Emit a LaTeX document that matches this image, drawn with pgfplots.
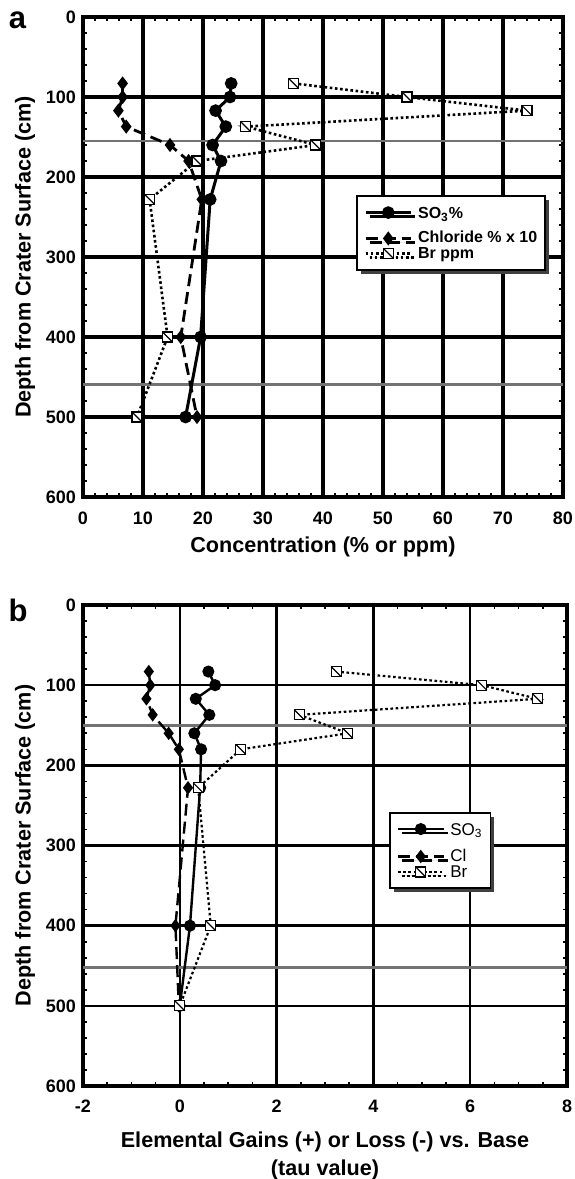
\documentclass[border=0pt]{standalone}
\usepackage{fontspec}
\setmainfont{Liberation Sans}
\usepackage{pgfplots}
\pgfplotsset{compat=1.18}
\usetikzlibrary{shadows}

% open square with a backslash diagonal (Br marker)
\pgfdeclareplotmark{sqslash}{%
  \pgfpathrectangle{\pgfqpoint{-\pgfplotmarksize}{-\pgfplotmarksize}}{\pgfqpoint{2\pgfplotmarksize}{2\pgfplotmarksize}}%
  \pgfusepathqfillstroke
  \pgfpathmoveto{\pgfqpoint{-\pgfplotmarksize}{\pgfplotmarksize}}%
  \pgfpathlineto{\pgfqpoint{\pgfplotmarksize}{-\pgfplotmarksize}}%
  \pgfusepathqstroke}

\pgfplotsset{
  panel/.style={
    scale only axis,
    y dir=reverse, ymin=0, ymax=600, ytick={0,100,...,600},
    minor y tick num=4,
    grid=major,
    minor tick length=2pt, major tick length=2pt,
    every tick/.style={black, line width=0.8pt},
    tick label style={font=\bfseries\fontsize{9}{10}\selectfont},
    /pgf/number format/assume math mode=true,
    label style={font=\bfseries\fontsize{10.8}{14}\selectfont},
    ylabel={Depth from Crater Surface (cm)},
    legend cell align=left,
    legend image code/.code={%
      \draw[mark repeat=2,mark phase=2] plot coordinates {(0cm,0cm) (0.4cm,0cm) (0.8cm,0cm)};
      \path (0.88cm,0cm);},
  },
  so3/.style={black, mark=*, mark size=2.4pt, mark options={solid}},
  cl/.style={black, dash pattern=on 6pt off 3pt, mark=diamond*, mark size=2.4pt, mark options={solid}},
  br/.style={black, dash pattern=on 1.3pt off 1.3pt, line width=1.3pt, mark=sqslash, mark size=2.5pt,
    mark options={solid, fill=white, draw=black, line width=0.6pt}},
  layer/.style={forget plot, draw=black!55, line width=1.3pt},
}

\begin{document}
\begin{tikzpicture}
\useasboundingbox (0,0) rectangle (287pt,-589.5pt);

% ---------- panel a ----------
\begin{axis}[panel,
  at={(41.5pt,-248.5pt)}, anchor=south west,
  width=240pt, height=240pt,
  xmin=0, xmax=80, xtick={0,10,...,80}, minor x tick num=4,
  major grid style={black, line width=1.6pt},
  axis line style={line width=2pt},
  xticklabel style={yshift=-3.8pt},
  xlabel={Concentration (\% or ppm)},
  xlabel style={at={(axis description cs:0.5,-0.105)}, anchor=center},
  ylabel style={at={(axis description cs:-0.121,0.5)}, anchor=center},
  legend style={at={(axis description cs:0.569,0.629)}, anchor=north west,
    draw=black, line width=0.9pt, fill=white,
    drop shadow={shadow xshift=2pt, shadow yshift=-2pt, fill=black!75, opacity=1},
    font=\bfseries\fontsize{8}{9}\selectfont,
    inner xsep=3.5pt, inner ysep=5pt, row sep=0pt,
    nodes={inner xsep=0.5pt, inner ysep=0.5pt}},
]
\addplot[layer] coordinates {(0,155) (80,155)};
\addplot[layer] coordinates {(0,459) (80,459)};

\addplot[so3, line width=1.5pt] coordinates {
  (24.7,83) (24.5,100) (22.1,117) (23.8,137) (21.6,160)
  (23.0,180) (21.2,228) (19.6,400) (17.1,500)};
\addlegendentry[text depth=5.5pt, yshift=-2.75pt]{SO\textsubscript{3}\%}

\addplot[cl, line width=1.4pt] coordinates {
  (6.6,83) (6.6,100) (5.9,117) (7.2,137) (14.5,160)
  (17.6,180) (19.8,228) (16.3,400) (19.0,500)};
\addlegendentry{Chloride \% x 10}

\addplot[br] coordinates {
  (35.1,83) (54.0,100) (74.0,117) (27.1,137) (38.8,160)
  (19.0,180) (11.1,228) (14.1,400) (9.0,500)};
\addlegendentry[text depth=0pt]{Br ppm}
\end{axis}

% ---------- panel b ----------
\begin{axis}[panel,
  at={(41.5pt,-543pt)}, anchor=south west,
  width=242pt, height=240.5pt,
  xmin=-2, xmax=8, xtick={-2,0,...,8}, minor x tick num=3,
  major grid style={black, line width=1.2pt},
  axis line style={line width=1.8pt},
  xticklabel style={yshift=-3.3pt},
  xlabel={Elemental Gains (+) or Loss (-) vs. Base\\(tau value)},
  xlabel style={align=center, at={(axis description cs:0.5,-0.146)}, anchor=center},
  ylabel style={at={(axis description cs:-0.12,0.5)}, anchor=center},
  legend style={at={(axis description cs:0.632,0.57)}, anchor=north west,
    draw=black, line width=0.9pt, fill=white,
    drop shadow={shadow xshift=2pt, shadow yshift=-2pt, fill=black!75, opacity=1},
    font=\fontsize{8.5}{9.5}\selectfont,
    inner xsep=3.5pt, inner ysep=4.7pt, row sep=0pt,
    nodes={inner xsep=0.5pt, inner ysep=0.5pt}},
]
\addplot[layer] coordinates {(-2,150) (8,150)};
\addplot[layer] coordinates {(-2,452) (8,452)};

\addplot[so3, line width=1.2pt] coordinates {
  (0.59,83) (0.73,100) (0.33,117) (0.61,137) (0.30,160)
  (0.44,180) (0.42,228) (0.21,400) (0.0,500)};
\addlegendentry[text depth=5.9pt, yshift=-2.95pt]{SO\textsubscript{3}}

\addplot[cl, line width=1.2pt] coordinates {
  (-0.64,83) (-0.61,100) (-0.69,117) (-0.56,137) (-0.23,160)
  (-0.02,180) (0.17,228) (-0.09,400) (-0.02,500)};
\addlegendentry{Cl}

\addplot[br, line width=1.1pt] coordinates {
  (3.23,83) (6.24,100) (7.39,117) (2.47,137) (3.47,160)
  (1.26,180) (0.38,228) (0.64,400) (0.0,500)};
\addlegendentry[text depth=0pt]{Br}
\end{axis}

\node[font=\bfseries\fontsize{15.5}{16}\selectfont] at (8.75pt,-10pt) {a};
\node[font=\bfseries\fontsize{15.5}{16}\selectfont] at (9pt,-305pt) {b};
\end{tikzpicture}
\end{document}
